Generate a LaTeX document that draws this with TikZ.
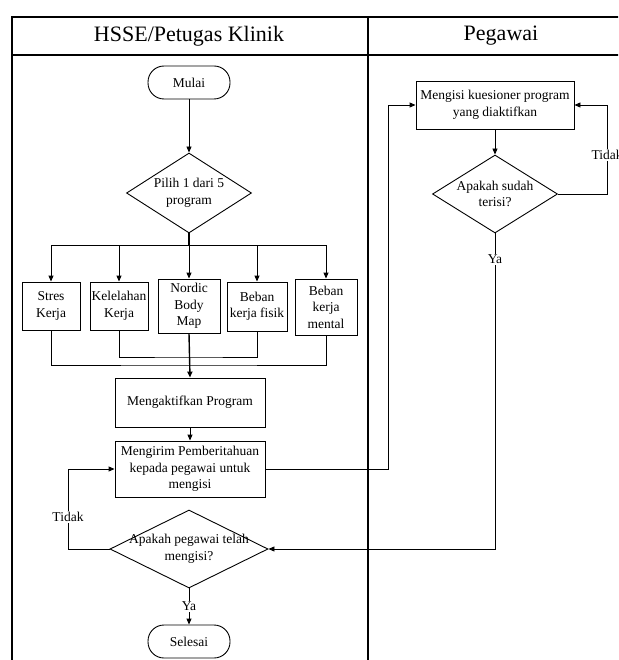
\documentclass[tikz,border=0pt]{standalone}
\usepackage{fontspec}
\setmainfont{Liberation Serif}
\usetikzlibrary{shapes.geometric,arrows.meta}
\newcommand\zl[1]{\makebox[0pt]{#1}}
\begin{document}
\begin{tikzpicture}[x=1pt,y=-1pt,
  every node/.style={font=\fontsize{13.5}{16.5}\selectfont, inner sep=1pt},
  box/.style={draw, line width=0.9pt, align=center, inner sep=0pt},
  term/.style={draw, line width=0.9pt, rounded corners=16pt, minimum width=82pt, minimum height=33pt, inner sep=0pt},
  dia/.style={draw, diamond, line width=0.9pt, align=center, inner sep=0pt},
  ln/.style={line width=0.9pt},
  arr/.style={line width=0.9pt, -{Triangle[length=6pt,width=5pt]}},
  lbl/.style={fill=white, inner sep=1pt},
  tbl/.style={line width=1.1pt},
  head/.style={font=\fontsize{22}{26}\selectfont}]
\useasboundingbox (0,0) rectangle (618,660);
\clip (0,0) rectangle (618,660);
% table
\draw[tbl] (12,662) -- (12,17) -- (640,17);
\draw[tbl] (12,55) -- (640,55);
\draw[tbl] (368,17) -- (368,662);
\node[head] (h1) at (189,36) {HSSE/Petugas Klinik};
\node[head] (h2) at (501,36) {Pegawai};
% left lane
\node[term] (mulai) at (189,82.5) {Mulai};
\node[dia, minimum width=125pt, minimum height=80pt] (pilih) at (189,193) {\zl{Pilih 1 dari 5}\\\zl{program}};
\node[box, minimum width=58pt, minimum height=48pt] (stres) at (51,306) {Stres\\Kerja};
\node[box, minimum width=58pt, minimum height=48pt] (kel) at (119,306) {Kelelahan\\Kerja};
\node[box, minimum width=62pt, minimum height=54pt] (nordic) at (189,306) {Nordic\\Body\\Map};
\node[box, minimum width=60pt, minimum height=49pt] (fisik) at (257,306.5) {Beban\\kerja fisik};
\node[box, minimum width=62pt, minimum height=56pt] (mental) at (326,307) {Beban\\kerja\\mental};
\node[box, minimum width=150pt, minimum height=49pt] (aktif) at (190,402.5) {Mengaktifkan Program};
\node[box, minimum width=150pt, minimum height=56pt] (kirim) at (190,469) {Mengirim Pemberitahuan\\kepada pegawai untuk\\mengisi};
\node[dia, minimum width=158pt, minimum height=78pt] (peg) at (189,549) {\zl{Apakah pegawai telah}\\\zl{mengisi?}};
\node[term] (selesai) at (189,641.5) {Selesai};
% right lane
\node[box, minimum width=158pt, minimum height=48pt] (isi) at (495,105) {Mengisi kuesioner program\\yang diaktifkan};
\node[dia, minimum width=125pt, minimum height=78pt] (sudah) at (495,194) {\zl{Apakah sudah}\\\zl{terisi?}};
% coordinates
\coordinate (bar) at (189,245);
\coordinate (m1) at (189,357);
\coordinate (m2) at (189,365);
\coordinate (r1) at (388,469);
\coordinate (rr) at (607,194);
\coordinate (ll) at (68,549);
% connectors
\draw[arr] (mulai) -- (pilih);
\draw[line width=1.6pt] (pilih.south) -- (bar);
\draw[ln] (stres.north |- bar) -- (mental.north |- bar);
\foreach \n in {stres,kel,nordic,fisik,mental}
  \draw[arr] (\n.north |- bar) -- (\n.north);
\draw[ln] (kel.south) |- (m1) -| (fisik.south);
\draw[ln] (stres.south) |- (m2) -| (mental.south);
\draw[arr, line width=1.4pt] (nordic.south) -- (aktif.north);
\draw[arr] (aktif) -- (kirim);
\draw[arr] (kirim.east) -- (r1) |- (isi.west);
\draw[arr] (isi) -- (sudah);
\draw[arr] (sudah.east) -- (rr) |- node[lbl, pos=0.22] (t1) {Tidak} (isi.east);
\draw[arr] (sudah.south) |- node[lbl, pos=0.041] (y1) {Ya} (peg.east);
\draw[arr] (peg.west) -- (ll) |- node[lbl, pos=0.2] (t2) {Tidak} (kirim.west);
\draw[arr] (peg.south) -- node[lbl, pos=0.5] (y2) {Ya} (selesai.north);
\end{tikzpicture}
\end{document}
